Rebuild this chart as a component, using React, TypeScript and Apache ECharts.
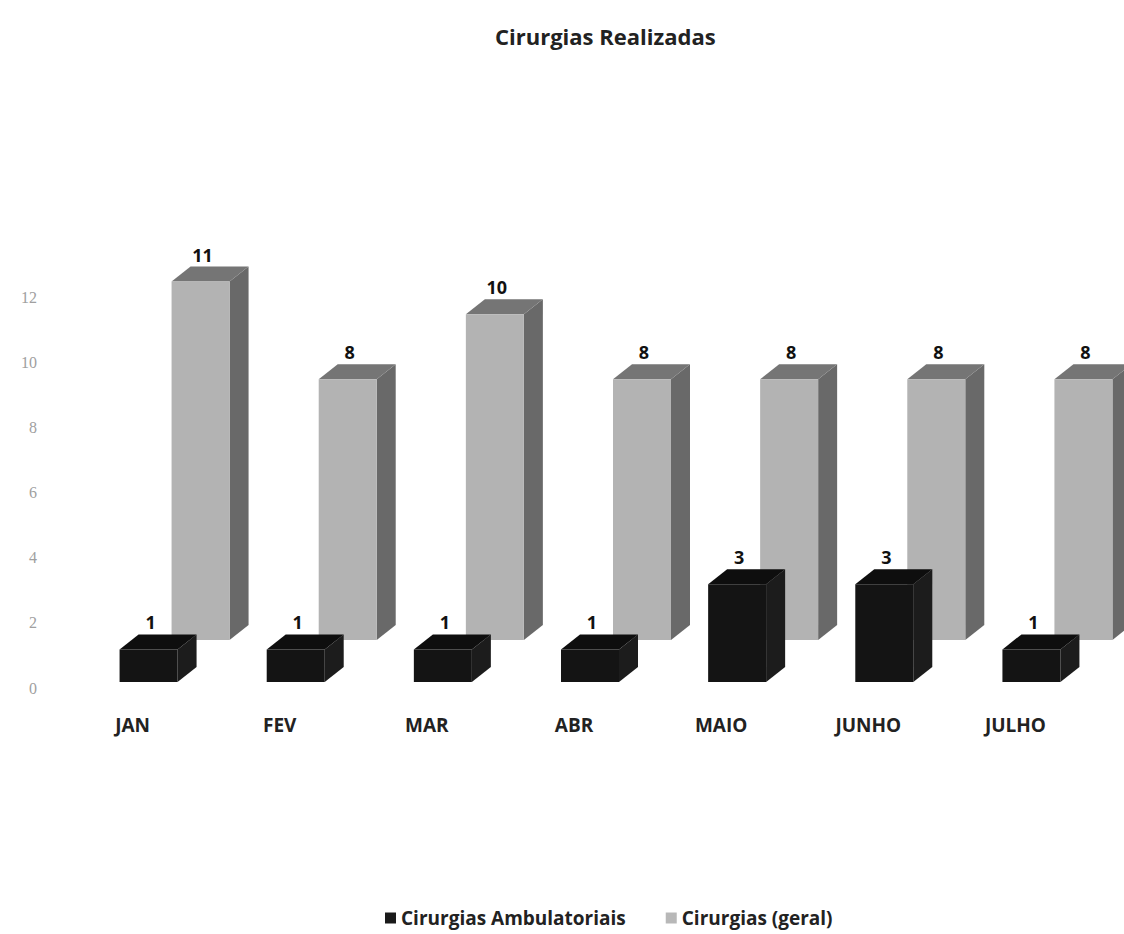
import React, { useEffect, useRef } from "react";
import * as echarts from "echarts";

const categories = ["JAN", "FEV", "MAR", "ABR", "MAIO", "JUNHO", "JULHO"];
const ambulatoriais = [1, 1, 1, 1, 3, 3, 1];
const geral = [11, 8, 10, 8, 8, 8, 8];
const seriesNames = ["Cirurgias Ambulatoriais", "Cirurgias (geral)"];
const titleText = "Cirurgias Realizadas";

const W = 58;
const DX = 19;
const DY = -15;

function makeBox(offsetX: number, offsetY: number, c: { front: string; top: string; side: string }) {
  return (params: any, api: any) => {
    const i = api.value(0);
    const v = api.value(1);
    const p0 = api.coord([i, 0]);
    const p1 = api.coord([i, v]);
    const xL = p0[0] + offsetX;
    const xR = xL + W;
    const yB = p0[1] + offsetY;
    const yT = p1[1] + offsetY;
    return {
      type: "group",
      children: [
        {
          type: "polygon",
          shape: { points: [[xR, yT], [xR + DX, yT + DY], [xR + DX, yB + DY], [xR, yB]] },
          style: { fill: c.side },
        },
        {
          type: "polygon",
          shape: { points: [[xL, yT], [xL + DX, yT + DY], [xR + DX, yT + DY], [xR, yT]] },
          style: { fill: c.top },
        },
        {
          type: "rect",
          shape: { x: xL, y: yT, width: W, height: yB - yT },
          style: { fill: c.front },
        },
        {
          type: "text",
          x: xL + W / 2 + 2,
          y: yT - 27,
          style: {
            text: String(v),
            fill: "#111",
            font: "bold 18px 'Open Sans'",
            textAlign: "center",
            textVerticalAlign: "middle",
          },
        },
      ],
    };
  };
}

export default function App() {
  const ref = useRef<HTMLDivElement>(null);
  useEffect(() => {
    if (!ref.current) return;
    const chart = echarts.init(ref.current, null, { renderer: "svg" });
    chart.setOption({
      animation: false,
      backgroundColor: "#ffffff",
      title: {
        text: titleText,
        left: 490,
        top: 20,
        textStyle: { fontFamily: "Open Sans", fontWeight: "bold", fontSize: 22, color: "#222" },
      },
      legend: {
        left: 380,
        top: 902,
        itemWidth: 11,
        itemHeight: 11,
        itemGap: 40,
        icon: "rect",
        data: [
          { name: seriesNames[0], itemStyle: { color: "#1a1a1a" } },
          { name: seriesNames[1], itemStyle: { color: "#b8b8b8" } },
        ],
        textStyle: { fontFamily: "Open Sans", fontWeight: "bold", fontSize: 19, lineHeight: 22, color: "#222" },
      },
      grid: { left: 59, right: 35, top: 297, bottom: 246, containLabel: false },
      xAxis: {
        type: "category",
        data: categories,
        axisLine: { show: false },
        axisTick: { show: false },
        axisLabel: {
          margin: 27,
          fontFamily: "Open Sans",
          fontWeight: "bold",
          fontSize: 19,
          color: "#222",
        },
      },
      yAxis: {
        type: "value",
        min: 0,
        max: 12,
        interval: 2,
        axisLine: { show: false },
        axisTick: { show: false },
        splitLine: { show: false },
        axisLabel: {
          margin: 22,
          fontFamily: "Liberation Serif",
          fontSize: 16,
          color: "#a0a0a0",
        },
      },
      series: [
        {
          name: seriesNames[1],
          type: "custom",
          itemStyle: { color: "#b8b8b8" },
          renderItem: makeBox(39, -48, { front: "#b3b3b3", top: "#757575", side: "#696969" }),
          encode: { x: 0, y: 1 },
          data: geral.map((v, i) => [i, v]),
          z: 1,
        },
        {
          name: seriesNames[0],
          type: "custom",
          itemStyle: { color: "#1a1a1a" },
          renderItem: makeBox(-13, -6, { front: "#141414", top: "#0e0e0e", side: "#1c1c1c" }),
          encode: { x: 0, y: 1 },
          data: ambulatoriais.map((v, i) => [i, v]),
          z: 2,
        },
      ],
    });
    return () => chart.dispose();
  }, []);
  return (
    <div
      ref={ref}
      style={{ position: "fixed", left: 0, top: 0, width: 1124, height: 934 }}
    />
  );
}
